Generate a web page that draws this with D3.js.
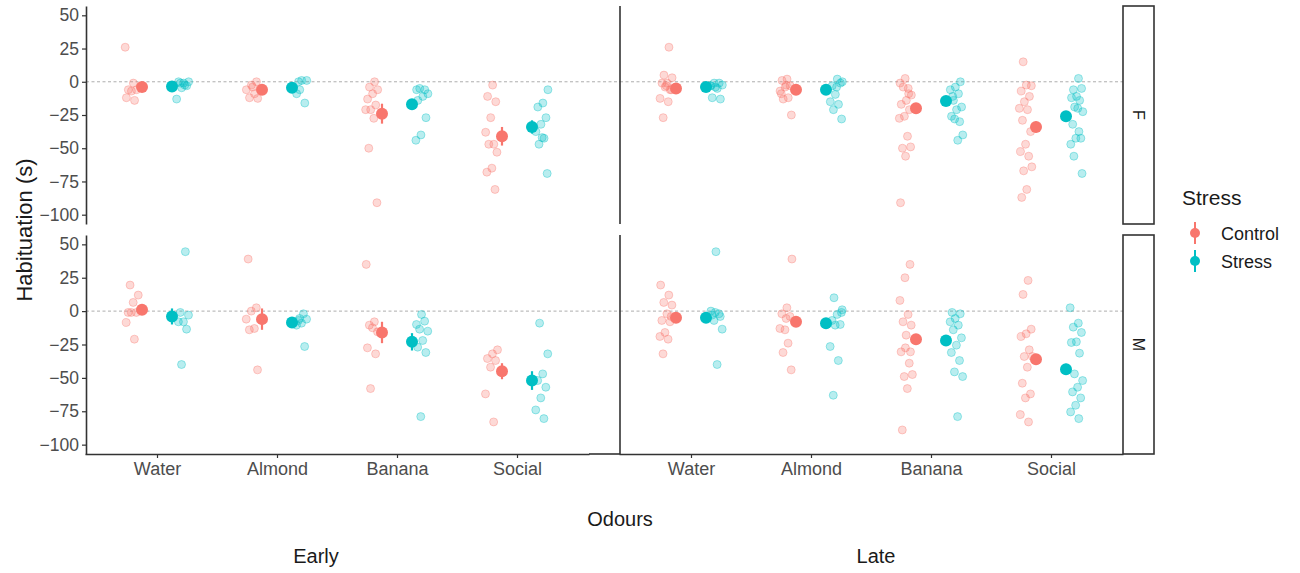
<!DOCTYPE html>
<html>
<head>
<meta charset="utf-8">
<script src="https://cdn.jsdelivr.net/npm/d3@7/dist/d3.min.js"></script>
<style>
  body { margin: 0; background: #fff; }
  svg { font-family: "Liberation Sans", Arial, sans-serif; }
</style>
</head>
<body>
<svg id="chart"></svg>
<script>
const odours = ["Water", "Almond", "Banana", "Social"]
const stressLevels = ["Control", "Stress"]
const yTicks = [50, 25, 0, -25, -50, -75, -100]

// raw habituation values (s), one list per odour
const earlyF_control = [
    [26, -1, -6, -6, -7, -12, -14],
    [0, -2.5, -6, -9, -12, -12.5, -4],
    [0, -4, -6, -9, -13, -17.5, -21, -21, -27.5, -50, -91],
    [-2.5, -11, -15, -27, -38, -47, -47, -53, -65, -68, -81]
]
const earlyF_stress = [
    [-1, 0, -1, 0, -3, -4.5, -13, -2.5],
    [0, 1, 1, -9, -16, -6],
    [-6, -6, -5, -9, -11, -14, -27, -40, -44],
    [-6, -16, -19, -27, -32, -37.5, -42.5, -47, -69, -42]
]
const earlyM_control = [
    [19.5, 12, 6.5, -1, -1, -1, -8.5, -21],
    [39, 2.5, 0, -6, -13, -14, -44],
    [35, -8, -10.5, -15.5, -12.5, -27.5, -32, -58],
    [-29, -32, -35.5, -37, -42, -62, -83]
]
const earlyM_stress = [
    [44.5, -1, -3, -8, -8, -13.5, -40],
    [-2, -7, -6, -9, -10.5, -26.5, -5.5],
    [-2.5, -10, -7.5, -13.5, -15, -22, -27, -31, -79],
    [-9, -32, -47, -52, -57, -65, -74, -80.5]
]
const lateF_control = [
    [26, 5, 3, -1, -1, -6, -4, -12.5, -15, -27, -6, -3],
    [2, 1, -3, -4, -7, -12, -13, -25, -2.5, -9],
    [2.5, -1, -5, -4, -10, -14, -17, -21, -26, -27.5, -41, -50, -49, -56, -91, -9],
    [15, -3, -2.5, -7, -11, -15, -20, -21, -29, -37.5, -47, -52.5, -56, -67, -64, -81, -87]
]
const lateF_stress = [
    [-3, -1, -1, -2.5, -5, -12, -13, -4, -3],
    [0, 2, -3, -1, -9.5, -15, -17, -21, -28, -4],
    [0, -4, -6, -9, -14, -19, -21, -26, -30, -28, -40, -44, -11],
    [2.5, -6, -5, -11, -12, -14, -19, -22.5, -20, -32, -42.5, -42.5, -47, -37.5, -56, -69]
]
const lateM_control = [
    [19.5, 12, 6.5, 4.5, -2, -7, -8, -16, -19, -21, -32, -4],
    [39, 2.5, -2, -4, -14, -13, -24, -31, -44, -5.5],
    [35, 25, 8, -2.5, -8, -10.5, -18, -30.5, -39, -49, -47.5, -58, -89, -30.5, -27.5],
    [23, 12.5, -13.5, -17, -19, -29, -34, -34, -42, -54, -62, -65, -77.5, -83]
]
const lateM_stress = [
    [44.5, 0, -2, -7, -13.5, -40, -3, -4, -1],
    [10, 1, -2.5, -7, -10, -10.5, -26.5, -37, -63, -1],
    [-1, -2, -5.5, -8, -10.5, -14, -20, -25.5, -31, -37, -45.5, -49, -79],
    [2.5, -9, -12, -16, -23, -23.5, -31.5, -47, -52, -57, -60.5, -65, -70.5, -75.5, -80.5]
]

// group means and standard errors (Water, Almond, Banana, Social)
const earlyF_controlMean = [-4, -6, -24, -41]
const earlyF_controlSe = [1.5, 2, 7.5, 7]
const earlyF_stressMean = [-3.5, -4.5, -17, -34]
const earlyF_stressSe = [1.5, 2, 4, 5]
const earlyM_controlMean = [1, -6, -16, -45]
const earlyM_controlSe = [2, 8, 8, 6]
const earlyM_stressMean = [-4, -8.5, -23, -52]
const earlyM_stressSe = [6, 1.5, 6.5, 7]
const lateF_controlMean = [-5, -6, -20, -34]
const lateF_controlSe = [1.5, 1.5, 3, 4]
const lateF_stressMean = [-4, -6, -14.5, -26]
const lateF_stressSe = [1, 2, 2.5, 3]
const lateM_controlMean = [-5, -8, -21, -36]
const lateM_controlSe = [1.5, 2, 3, 3.5]
const lateM_stressMean = [-5, -9, -22, -43.5]
const lateM_stressSe = [1, 1.5, 2, 4]

const panels = [
    { time: "Early", sex: "F", Control: [earlyF_control, earlyF_controlMean, earlyF_controlSe], Stress: [earlyF_stress, earlyF_stressMean, earlyF_stressSe] },
    { time: "Early", sex: "M", Control: [earlyM_control, earlyM_controlMean, earlyM_controlSe], Stress: [earlyM_stress, earlyM_stressMean, earlyM_stressSe] },
    { time: "Late", sex: "F", Control: [lateF_control, lateF_controlMean, lateF_controlSe], Stress: [lateF_stress, lateF_stressMean, lateF_stressSe] },
    { time: "Late", sex: "M", Control: [lateM_control, lateM_controlMean, lateM_controlSe], Stress: [lateM_stress, lateM_stressMean, lateM_stressSe] }
]

const width = 1300
const height = 573
const colors = { Control: "#F8766D", Stress: "#00BFC4" }
const textGrey = "#4d4d4d"
const lineCol = "#333"

const cols = {
    Early: { x0: 85, x1: 589, left: 86, right: 620, label: 316 },
    Late: { x0: 619, x1: 1123, left: 620, right: 1123, label: 876 }
}
const rows = {
    F: { top: 6, bottom: 224 },
    M: { top: 235, bottom: 454 }
}

const svg = d3.select("#chart")
    .attr("width", width)
    .attr("height", height)

const xScales = {}
Object.keys(cols).forEach(k => {
    xScales[k] = d3.scalePoint().domain(odours).range([cols[k].x0, cols[k].x1]).padding(0.6)
})
const yScales = {}
Object.keys(rows).forEach(k => {
    yScales[k] = d3.scaleLinear().domain([-107, 57]).range([rows[k].bottom, rows[k].top])
})

// deterministic horizontal jitter
const jitter = (i, seed) => ((i * 0.6180339887 + seed * 0.37) % 1) - 0.5
const fmt = d => d < 0 ? "\u2212" + Math.abs(d) : String(d)

panels.forEach((p, pi) => {
    const x = xScales[p.time]
    const y = yScales[p.sex]
    const c = cols[p.time]
    const step = x.step()
    const g = svg.append("g")

    g.append("line")
        .attr("x1", c.left).attr("x2", c.right)
        .attr("y1", y(0)).attr("y2", y(0))
        .attr("stroke", "#999")
        .attr("stroke-width", 0.8)
        .attr("stroke-dasharray", "3,2.5")

    stressLevels.forEach((s, si) => {
        const [raw, mean, se] = p[s]
        const side = si === 0 ? -1 : 1
        const pts = []
        raw.forEach((vals, oi) => vals.forEach((v, i) => pts.push({ odour: odours[oi], v, i: i + oi * 3 })))

        g.append("g").selectAll("circle")
            .data(pts)
            .join("circle")
            .attr("cx", d => x(d.odour) + side * 0.21 * step + jitter(d.i, pi + si) * 0.11 * step)
            .attr("cy", d => y(d.v))
            .attr("r", 4)
            .attr("fill", colors[s])
            .attr("fill-opacity", 0.28)
            .attr("stroke", colors[s])
            .attr("stroke-opacity", 0.35)
            .attr("stroke-width", 1)

        const summary = odours.map((o, oi) => ({ odour: o, mean: mean[oi], se: se[oi] }))
        const mx = d => x(d.odour) + side * 0.125 * step

        g.append("g").selectAll("line")
            .data(summary)
            .join("line")
            .attr("x1", mx).attr("x2", mx)
            .attr("y1", d => y(d.mean - d.se))
            .attr("y2", d => y(d.mean + d.se))
            .attr("stroke", colors[s])
            .attr("stroke-width", 2.2)

        g.append("g").selectAll("circle")
            .data(summary)
            .join("circle")
            .attr("cx", mx)
            .attr("cy", d => y(d.mean))
            .attr("r", 6)
            .attr("fill", colors[s])
    })
})

// y axis (Early panel only carries labels)
Object.keys(rows).forEach(k => {
    const ax = svg.append("g")
        .attr("transform", `translate(${cols.Early.left},0)`)
        .call(d3.axisLeft(yScales[k]).tickValues(yTicks).tickFormat(fmt).tickSize(4).tickSizeOuter(0).tickPadding(3))
    ax.select(".domain").attr("stroke", lineCol).attr("stroke-width", 1.6)
    ax.selectAll(".tick line").attr("stroke", lineCol).attr("stroke-width", 1.2)
    ax.selectAll(".tick text").attr("fill", textGrey).style("font-size", "17.5px")
        .style("font-family", "Liberation Sans, Arial, sans-serif")

    // divider between the Early and Late panels
    svg.append("line")
        .attr("x1", cols.Late.left).attr("x2", cols.Late.left)
        .attr("y1", rows[k].top).attr("y2", rows[k].bottom)
        .attr("stroke", lineCol).attr("stroke-width", 1.6)
})

// x axes
Object.keys(cols).forEach(k => {
    const ax = svg.append("g")
        .attr("transform", `translate(0,${rows.M.bottom})`)
        .call(d3.axisBottom(xScales[k]).tickSize(4).tickSizeOuter(0).tickPadding(4))
    ax.select(".domain").attr("stroke", lineCol).attr("stroke-width", 1.6)
    ax.selectAll(".tick line").attr("stroke", lineCol).attr("stroke-width", 1.2)
    ax.selectAll(".tick text").attr("fill", textGrey).style("font-size", "18px")
        .style("font-family", "Liberation Sans, Arial, sans-serif")

    svg.append("text")
        .attr("x", cols[k].label)
        .attr("y", 563)
        .attr("text-anchor", "middle")
        .attr("fill", "#1a1a1a")
        .style("font-size", "20px")
        .text(k)
})
svg.append("line")
    .attr("x1", cols.Early.x1).attr("x2", cols.Early.right)
    .attr("y1", rows.M.bottom).attr("y2", rows.M.bottom)
    .attr("stroke", lineCol).attr("stroke-width", 1.6)

// facet strips
Object.keys(rows).forEach(k => {
    const r = rows[k]
    svg.append("rect")
        .attr("x", 1123).attr("y", r.top)
        .attr("width", 31).attr("height", r.bottom - r.top)
        .attr("fill", "#fff")
        .attr("stroke", lineCol)
        .attr("stroke-width", 1.6)
    svg.append("text")
        .attr("transform", `translate(1138.5,${(r.top + r.bottom) / 2}) rotate(90)`)
        .attr("text-anchor", "middle")
        .attr("dy", "0.35em")
        .attr("fill", "#1a1a1a")
        .style("font-size", "16px")
        .text(k)
})

// axis titles
svg.append("text")
    .attr("transform", "translate(32,230) rotate(-90)")
    .attr("text-anchor", "middle")
    .attr("fill", "#1a1a1a")
    .style("font-size", "22px")
    .text("Habituation (s)")

svg.append("text")
    .attr("x", 620)
    .attr("y", 526)
    .attr("text-anchor", "middle")
    .attr("fill", "#1a1a1a")
    .style("font-size", "20px")
    .text("Odours")

// legend
const legend = svg.append("g").attr("transform", "translate(1182,0)")
legend.append("text")
    .attr("x", 0).attr("y", 205)
    .attr("fill", "#1a1a1a")
    .style("font-size", "21px")
    .text("Stress")

stressLevels.forEach((s, i) => {
    const cy = 233 + i * 28
    legend.append("line")
        .attr("x1", 13).attr("x2", 13)
        .attr("y1", cy - 11).attr("y2", cy + 11)
        .attr("stroke", colors[s]).attr("stroke-width", 2)
    legend.append("circle")
        .attr("cx", 13).attr("cy", cy).attr("r", 5)
        .attr("fill", colors[s])
    legend.append("text")
        .attr("x", 39).attr("y", cy + 6.5)
        .attr("fill", "#1a1a1a")
        .style("font-size", "18px")
        .text(s)
})
</script>
</body>
</html>
